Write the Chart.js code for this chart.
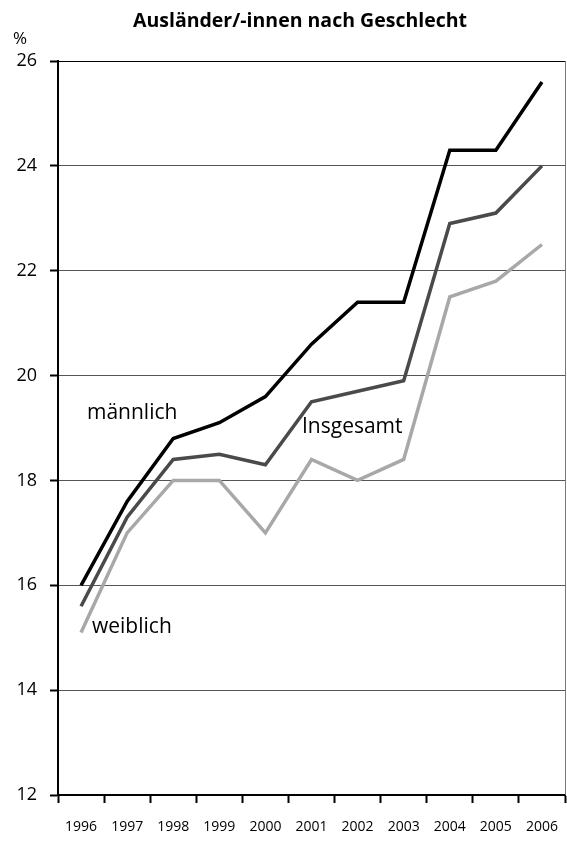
<!DOCTYPE html>
<html>
<head>
<meta charset="utf-8">
<script src="https://cdn.jsdelivr.net/npm/chart.js@4/dist/chart.umd.min.js"></script>
<style>
  html, body { margin: 0; padding: 0; background: #fff; }
  canvas { display: block; }
</style>
</head>
<body>
<canvas id="chart" width="567" height="841"></canvas>
<script>
const years = ["1996", "1997", "1998", "1999", "2000", "2001", "2002", "2003", "2004", "2005", "2006"]
const maennlich = [16.0, 17.6, 18.8, 19.1, 19.6, 20.6, 21.4, 21.4, 24.3, 24.3, 25.6]
const insgesamt = [15.6, 17.3, 18.4, 18.5, 18.3, 19.5, 19.7, 19.9, 22.9, 23.1, 24.0]
const weiblich = [15.1, 17.0, 18.0, 18.0, 17.0, 18.4, 18.0, 18.4, 21.5, 21.8, 22.5]

const font = "'Open Sans', 'Noto Sans', sans-serif"

// Titel, Einheit und die Beschriftung der Linien direkt im Diagramm
const labelsPlugin = {
  id: "textLabels",
  afterDraw: (chart) => {
    const { ctx, chartArea } = chart
    ctx.save()
    ctx.fillStyle = "#000"
    ctx.textBaseline = "alphabetic"

    ctx.font = `700 19.5px ${font}`
    ctx.textAlign = "center"
    ctx.fillText("Ausländer/-innen nach Geschlecht", 300, 27)

    ctx.font = `17px ${font}`
    ctx.textAlign = "left"
    ctx.fillText("%", 13, 44)

    ctx.font = `21px ${font}`
    ctx.fillText("männlich", 87, 419)
    ctx.fillText("Insgesamt", 302, 433)
    ctx.fillText("weiblich", 92, 633)

    // rechter Rahmen
    ctx.strokeStyle = "#777"
    ctx.lineWidth = 1
    ctx.beginPath()
    ctx.moveTo(chartArea.right + 0.5, chartArea.top)
    ctx.lineTo(chartArea.right + 0.5, chartArea.bottom)
    ctx.stroke()
    ctx.restore()
  }
}

const line = (label, data, color) => ({
  label, data,
  borderColor: color,
  borderWidth: 3.5,
  pointRadius: 0,
  tension: 0,
  fill: false
})

new Chart(document.getElementById("chart"), {
  type: "line",
  data: {
    labels: years,
    datasets: [
      line("weiblich", weiblich, "#a8a8a8"),
      line("Insgesamt", insgesamt, "#4a4a4a"),
      line("männlich", maennlich, "#000000")
    ]
  },
  options: {
    responsive: false,
    animation: false,
    layout: { padding: { top: 61, right: 2, left: 0, bottom: 0 } },
    plugins: {
      legend: { display: false },
      title: { display: false },
      tooltip: { enabled: false }
    },
    scales: {
      x: {
        offset: true,
        afterFit: (scale) => {
          scale.height = 46
          scale.paddingLeft = 0
          scale.paddingRight = 0
        },
        border: { color: "#000", width: 2 },
        grid: {
          offset: true,
          drawOnChartArea: false,
          drawTicks: true,
          tickLength: 8,
          tickColor: "#000",
          tickWidth: 2
        },
        ticks: {
          color: "#000",
          font: { family: font, size: 14 },
          padding: 16,
          maxRotation: 0,
          autoSkip: false
        }
      },
      y: {
        min: 12,
        max: 26,
        afterFit: (scale) => {
          scale.width = 58
          scale.paddingTop = 0
          scale.paddingBottom = 0
        },
        border: { color: "#000", width: 2 },
        grid: {
          color: (c) => c.tick.value === 26 ? "#000" : "#555",
          lineWidth: 1,
          tickLength: 8,
          tickColor: "#000",
          tickWidth: 2
        },
        ticks: {
          stepSize: 2,
          color: "#000",
          font: { family: font, size: 18 },
          padding: 13
        }
      }
    }
  },
  plugins: [ labelsPlugin ]
})
</script>
</body>
</html>
